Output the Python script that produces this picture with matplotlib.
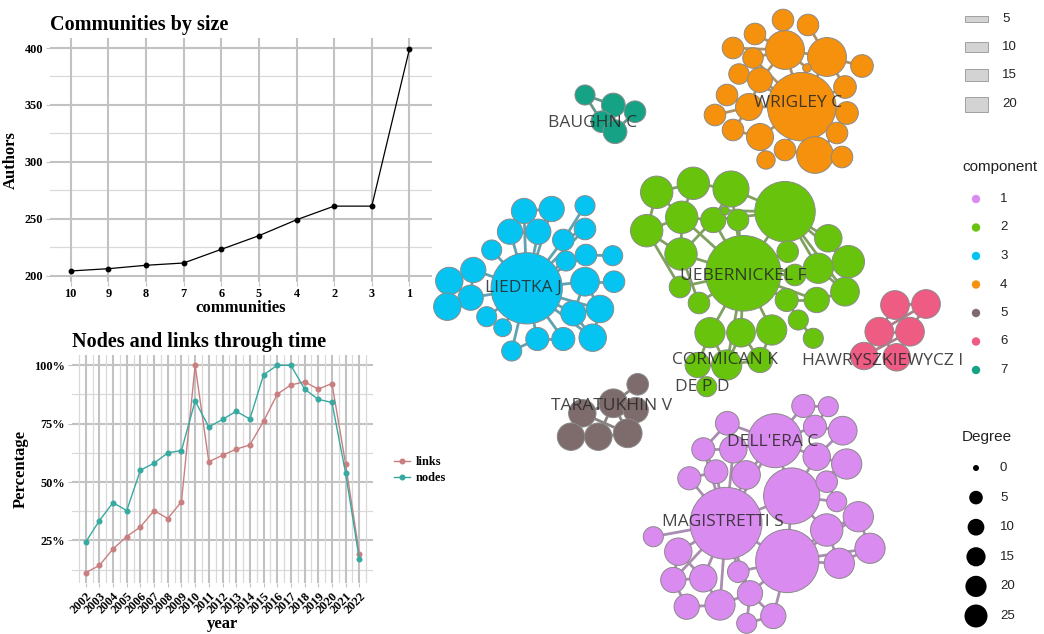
import numpy as np
import matplotlib.pyplot as plt
from matplotlib.patches import Circle, Rectangle
from matplotlib.collections import LineCollection
from matplotlib.ticker import FuncFormatter
from matplotlib.colors import to_rgb

# ---- community sizes ----
comm_labels = ['10', '9', '8', '7', '6', '5', '4', '2', '3', '1']
comm_authors = [204, 206, 209, 211, 223, 235, 249, 261, 261, 399]

# ---- nodes / links share per year ----
years = list(range(2002, 2023))
links_pct = [11.2, 14.3, 21.4, 26.7, 30.8, 37.8, 34.4, 41.6, 100, 58.7, 61.5,
             64.1, 65.9, 76.0, 87.6, 91.6, 92.9, 89.8, 92.2, 57.7, 19.3]
nodes_pct = [24.3, 33.5, 41.2, 37.8, 55.1, 58.1, 62.5, 63.5, 84.7, 73.6, 76.8,
             80.3, 77.0, 95.9, 100, 100, 89.8, 85.4, 84.1, 53.8, 16.9]

# ---- co-authorship network (layout coords, node radius) ----
comp_colors = {1: '#DA8BF0', 2: '#67C30C', 3: '#05C4F2', 4: '#F5910C',
               5: '#7E6B6B', 6: '#EE5C83', 7: '#16A284'}

c4_x = [801.7, 785, 827, 815, 783, 808, 755, 733, 753, 739, 760, 727, 749, 715, 733, 760, 785, 766, 842, 837, 847, 845, 862, 807]
c4_y = [106.7, 50, 57, 155, 20, 25, 34, 48, 58, 74, 80, 95, 107, 115, 130, 137, 150, 160, 157, 133, 113, 87, 66, 68]
c4_r = [31.7, 18, 18, 17, 10, 10, 10, 10, 9.5, 9.5, 11.5, 10, 12.5, 10, 10, 12.5, 10, 8.5, 10, 10, 10.5, 10.5, 10.5, 4]
c4_e = [(0, 1), (0, 2), (0, 3), (0, 10), (0, 12), (0, 15), (0, 16), (0, 19), (0, 20), (0, 21), (0, 23),
        (0, 8), (0, 9), (1, 4), (2, 5), (1, 6), (1, 7), (1, 8), (1, 2), (2, 22), (2, 21), (12, 11),
        (12, 13), (12, 14), (15, 14), (15, 17), (3, 18), (3, 16), (3, 19), (10, 9), (10, 12), (1, 10),
        (2, 23), (1, 23)]

c2_x = [743.3, 785, 656.7, 693.3, 731, 681.7, 713.3, 646.7, 738, 725, 681, 680, 699, 710, 741, 771.7,
        697.7, 726.7, 760, 706.7, 787.7, 828.3, 848.3, 818.3, 845, 816.7, 786.7, 798.3, 813.3, 795]
c2_y = [273.3, 211.7, 192.3, 183.3, 189, 217.3, 220, 230.7, 220, 210.7, 254, 287, 303, 332.7, 332.7, 330,
        365, 365, 360, 386.7, 251.7, 238.3, 261.7, 268.3, 291.7, 300, 300, 320, 338.3, 275]
c2_r = [35, 28, 15, 15, 16.7, 15, 11.7, 15, 10, 4, 15, 10, 10, 14, 13.3, 14,
        11.7, 14, 11.7, 9.3, 10, 12.7, 15, 14, 13.3, 11.7, 10.7, 9.3, 9.3, 10]
c2_e = [(0, 1), (0, 4), (0, 5), (0, 6), (0, 8), (0, 10), (0, 11), (0, 12), (0, 13), (0, 14), (0, 15),
        (0, 17), (0, 20), (0, 23), (0, 25), (0, 26), (0, 29), (2, 3), (2, 5), (2, 7), (3, 5), (3, 4),
        (4, 6), (4, 1), (5, 6), (5, 7), (5, 10), (7, 10), (6, 10), (9, 4), (9, 1), (1, 21), (1, 22),
        (1, 23), (1, 20), (21, 22), (22, 23), (23, 24), (24, 25), (25, 26), (26, 27), (27, 28),
        (13, 16), (14, 17), (15, 18), (16, 17), (17, 18), (16, 19), (13, 17), (14, 18), (1, 24),
        (1, 6), (10, 12), (7, 11)]

c3_x = [526.7, 524, 551.7, 585, 510, 538.3, 585, 563.3, 491.7, 473.3, 566, 586, 612.7, 449.3, 470.7,
        585, 614, 447.3, 486.7, 573.3, 600, 502.7, 537.3, 563.3, 592.7, 511.7]
c3_y = [288.3, 211, 209, 205.7, 231.7, 231.7, 229, 240, 250, 270, 261, 255, 255.7, 281, 297.7,
        281.7, 281.7, 306.7, 316.7, 313.3, 309, 327.7, 339, 339, 337.7, 351]
c3_r = [33, 11.7, 11.7, 9.3, 11.7, 11.7, 10, 10, 9.3, 11.7, 9.3, 10, 9.3, 12.7, 11.7,
        13.3, 10, 12.7, 9.3, 11.7, 12.7, 8.3, 10.7, 10.7, 12.7, 9.3]
c3_e = [(0, 1), (0, 2), (0, 4), (0, 5), (0, 6), (0, 7), (0, 8), (0, 9), (0, 10), (0, 11), (0, 14),
        (0, 15), (0, 18), (0, 19), (0, 20), (0, 21), (0, 22), (0, 23), (0, 24), (0, 25), (1, 2),
        (1, 4), (2, 5), (3, 7), (6, 7), (9, 13), (9, 14), (13, 17), (14, 17), (13, 14), (15, 16),
        (11, 12), (15, 19), (19, 20), (20, 24), (19, 24), (15, 20), (22, 23), (25, 22), (4, 5)]

c1_x = [726, 787.3, 791.7, 775, 727.3, 803.3, 828.3, 815, 842.7, 816.7, 846.7, 703.3, 733.3, 716,
        689.3, 746, 826.7, 836.7, 858.3, 826.7, 870, 839.3, 653.3, 678.3, 673.3, 703.3, 738.3,
        686.7, 720, 750, 746.7, 773.3]
c1_y = [523.3, 561, 496, 440.7, 423.3, 406, 406.7, 426.7, 430.7, 456.7, 464, 449.3, 449.3, 471.7,
        478.3, 475, 481.7, 501.7, 516.7, 530, 548.3, 563.3, 536.7, 551.7, 580, 578.3, 571.7,
        606.7, 605, 593.3, 623.3, 616]
c1_r = [33.3, 29.3, 26, 25, 11, 10.7, 9.3, 10.7, 13.3, 12.7, 14, 10.7, 12.7, 11,
        10.7, 13.3, 10, 9.3, 14, 15, 14, 14, 9.3, 12.7, 11.7, 12.7, 10,
        11.7, 14, 11.7, 9.3, 11.7]
c1_e = [(0, 1), (0, 2), (0, 3), (0, 12), (0, 13), (0, 14), (0, 15), (0, 22), (0, 23), (0, 25),
        (0, 26), (0, 28), (0, 29), (0, 24), (0, 11), (3, 4), (3, 5), (3, 7), (3, 9), (3, 2), (3, 12),
        (3, 15), (2, 1), (2, 9), (2, 16), (2, 17), (2, 19), (2, 10), (1, 19), (1, 21), (1, 20),
        (1, 18), (1, 29), (1, 31), (1, 26), (18, 19), (18, 20), (19, 21), (20, 21), (16, 17), (5, 6),
        (6, 7), (7, 8), (8, 9), (9, 10), (4, 11), (11, 12), (11, 13), (13, 14), (23, 24), (24, 25),
        (25, 28), (27, 28), (24, 27), (28, 29), (29, 30), (29, 31), (30, 31), (26, 29), (23, 25)]

c6_x = [895, 926, 879.3, 910, 864, 896.7]
c6_y = [305, 304, 331.7, 331.7, 356, 357.3]
c6_r = [13.3, 13.3, 13.3, 13.3, 12.7, 12.7]
c6_e = [(0, 2), (0, 3), (1, 3), (1, 2), (2, 3), (2, 4), (2, 5), (3, 5), (3, 4), (0, 1)]

c5_x = [637.7, 613.3, 582.3, 635.7, 571, 598.3, 627.7]
c5_y = [384.3, 403.3, 413.3, 410, 436.7, 436.7, 433.3]
c5_r = [10, 13.3, 12.7, 11.7, 12.7, 12.7, 13.3]
c5_e = [(0, 1), (1, 2), (1, 3), (1, 6), (1, 5), (2, 4), (2, 5), (2, 6), (3, 6), (4, 5), (5, 6)]

c7_x = [585, 613.3, 635, 601.7, 615]
c7_y = [95, 105, 111.7, 121.7, 131.7]
c7_r = [9.3, 11, 10, 10, 11]
c7_e = [(0, 3), (0, 1), (1, 2), (1, 3), (1, 4), (2, 4), (3, 4)]

author_names = ['BAUGHN C', 'WRIGLEY C', 'LIEDTKA J', 'UEBERNICKEL F', 'CORMICAN K', 'DE P D',
                'HAWRYSZKIEWYCZ I', 'TARATUKHIN V', "DELL'ERA C", 'MAGISTRETTI S']
name_x = [593, 798, 523, 743, 725, 702, 883, 612, 773, 723]
name_y = [123, 103, 288, 276, 360, 387, 361, 406, 442, 522]

weight_levels = [5, 10, 15, 20]
degree_levels = [0, 5, 10, 15, 20, 25]

serif = 'Liberation Serif'
grid_major = '#c2c2c2'
grid_minor = '#d9d9d9'

fig = plt.figure(figsize=(10.44, 6.34), dpi=100)
W, H = 1044.0, 634.0


def style_gg(ax):
    for s in ax.spines.values():
        s.set_visible(False)
    ax.tick_params(axis='both', length=3, color=grid_major, labelsize=8.8, pad=2)
    for lab in ax.get_xticklabels() + ax.get_yticklabels():
        lab.set_fontfamily(serif)
        lab.set_fontweight('bold')
    ax.set_axisbelow(True)


# ---------- Communities by size ----------
ax1 = fig.add_axes([50 / W, 1 - 282 / H, 382 / W, 244 / H])
xpos = np.arange(len(comm_labels))
for v in [225, 275, 325, 375]:
    ax1.axhline(v, color=grid_minor, lw=0.9, zorder=0)
for v in [200, 250, 300, 350, 400]:
    ax1.axhline(v, color=grid_major, lw=1.5, zorder=0)
for v in xpos:
    ax1.axvline(v, color=grid_major, lw=1.5, zorder=0)
ax1.plot(xpos, comm_authors, color='black', lw=0.9, marker='o', ms=3.2, zorder=3)
ax1.set_xlim(-0.55, 9.6)
ax1.set_ylim(194.3, 408.8)
ax1.set_xticks(xpos)
ax1.set_xticklabels(comm_labels)
ax1.set_yticks([200, 250, 300, 350, 400])
style_gg(ax1)
ax1.tick_params(axis='x', pad=1)
ax1.set_xlabel('communities', fontfamily=serif, fontweight='bold', fontsize=12, labelpad=0)
ax1.set_ylabel('Authors', fontfamily=serif, fontweight='bold', fontsize=12, labelpad=4)
ax1.set_title('Communities by size', loc='left', fontfamily=serif, fontweight='bold',
              fontsize=14.5, pad=6)

# ---------- Nodes and links through time ----------
ax2 = fig.add_axes([72 / W, 1 - 583 / H, 301 / W, 228 / H])
for v in [12.5, 37.5, 62.5, 87.5]:
    ax2.axhline(v, color=grid_minor, lw=0.9, zorder=0)
for v in [25, 50, 75, 100]:
    ax2.axhline(v, color=grid_major, lw=1.5, zorder=0)
for v in np.arange(2001.5, 2023, 1.0):
    ax2.axvline(v, color=grid_minor, lw=0.9, zorder=0)
for v in years:
    ax2.axvline(v, color=grid_major, lw=1.5, zorder=0)
ax2.plot(years, links_pct, color='#C97F7F', lw=1.0, marker='o', ms=3.3, label='links', zorder=3)
ax2.plot(years, nodes_pct, color='#37A9A1', lw=1.0, marker='o', ms=3.3, label='nodes', zorder=3)
ax2.set_xlim(2001, 2023)
ax2.set_ylim(6.8, 104.4)
ax2.set_xticks(years)
ax2.set_xticklabels([str(y) for y in years], rotation=45, ha='right', rotation_mode='anchor')
ax2.set_yticks([25, 50, 75, 100])
ax2.yaxis.set_major_formatter(FuncFormatter(lambda v, _: f'{v:.0f}%'))
style_gg(ax2)
ax2.set_xlabel('year', fontfamily=serif, fontweight='bold', fontsize=12, labelpad=0)
ax2.set_ylabel('Percentage', fontfamily=serif, fontweight='bold', fontsize=12, labelpad=4)
ax2.set_title('Nodes and links through time', loc='left', fontfamily=serif, fontweight='bold',
              fontsize=14.5, pad=6)
fig.legend(loc='center left', bbox_to_anchor=(383 / W, 1 - 470 / H), frameon=False,
           handlelength=1.3, handletextpad=0.5, labelspacing=0.3,
           prop={'family': serif, 'weight': 'bold', 'size': 8.8})

# ---------- network ----------
ax3 = fig.add_axes([420 / W, 0, 624 / W, 1])
ax3.set_xlim(420, 1044)
ax3.set_ylim(634, 0)
ax3.axis('off')

components = [
    (1, c1_x, c1_y, c1_r, c1_e),
    (2, c2_x, c2_y, c2_r, c2_e),
    (3, c3_x, c3_y, c3_r, c3_e),
    (4, c4_x, c4_y, c4_r, c4_e),
    (5, c5_x, c5_y, c5_r, c5_e),
    (6, c6_x, c6_y, c6_r, c6_e),
    (7, c7_x, c7_y, c7_r, c7_e),
]
grey = np.array(to_rgb('#8f8f8f'))
node_scale = 1.08
for comp, xs, ys, rs, edges in components:
    col = comp_colors[comp]
    ecol = 0.65 * grey + 0.35 * np.array(to_rgb(col))
    segs = [[(xs[a], ys[a]), (xs[b], ys[b])] for a, b in edges]
    ax3.add_collection(LineCollection(segs, colors=[ecol], linewidths=2.0, zorder=1))
    for x, y, r in zip(xs, ys, rs):
        ax3.add_patch(Circle((x, y), r * node_scale, facecolor=col, edgecolor='#8a8a8a',
                             lw=0.7, zorder=2))

for name, x, y in zip(author_names, name_x, name_y):
    ax3.text(x, y, name, ha='center', va='center', fontsize=12.5, fontfamily='Open Sans',
             color='#262626', alpha=0.85, zorder=5)

# ---------- legends ----------
lab_font = dict(fontfamily='Liberation Sans', fontsize=9.5, color='#222222', va='center')
w_y = [19, 47, 75, 104]
for w, yy in zip(weight_levels, w_y):
    h = 0.55 * w + 4
    ax3.add_patch(Rectangle((965, yy - h / 2), 23, h, facecolor='#d3d3d3', edgecolor='#a0a0a0',
                            lw=0.7, zorder=2))
    ax3.text(1002, yy, str(w), ha='left', **lab_font)

ax3.text(962, 167, 'component', ha='left', fontfamily='Liberation Sans', fontsize=11,
         color='#222222', va='center')
for i, comp in enumerate(sorted(comp_colors)):
    yy = 199 + i * 28.5
    ax3.add_patch(Circle((976, yy), 4.2, facecolor=comp_colors[comp], edgecolor='none', zorder=2))
    ax3.text(1000, yy, str(comp), ha='left', **lab_font)

ax3.text(962, 437, 'Degree', ha='left', fontfamily='Liberation Sans', fontsize=11,
         color='#222222', va='center')
for i, d in enumerate(degree_levels):
    yy = 468 + i * 29.6
    ax3.add_patch(Circle((976, yy), 3 + 1.7 * np.sqrt(d), facecolor='black', edgecolor='none', zorder=2))
    ax3.text(1000, yy, str(d), ha='left', **lab_font)

fig.savefig('out.png', dpi=100)
